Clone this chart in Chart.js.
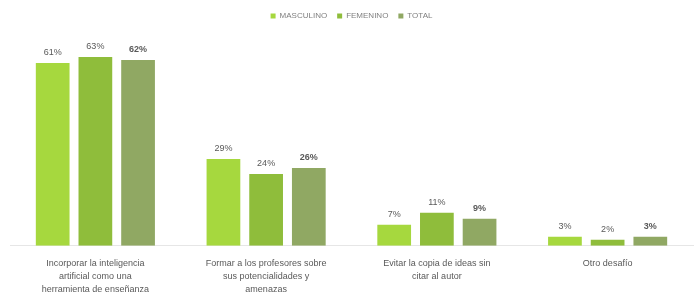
<!DOCTYPE html>
<html>
<head>
<meta charset="utf-8">
<script src="https://cdn.jsdelivr.net/npm/chart.js@4/dist/chart.umd.min.js"></script>
<style>
  html, body { margin: 0; padding: 0; background: #fff; }
  #wrap { width: 697px; height: 298px; }
</style>
</head>
<body>
<div id="wrap"><canvas id="chart" width="697" height="298"></canvas></div>
<script>
// Categories (challenges) and percentages per group
const categories = [
  ['Incorporar la inteligencia', 'artificial como una', 'herramienta de enseñanza'],
  ['Formar a los profesores sobre', 'sus potencialidades y', 'amenazas'],
  ['Evitar la copia de ideas sin', 'citar al autor'],
  ['Otro desafío']
];
const seriesNames = ['MASCULINO', 'FEMENINO', 'TOTAL'];
const masculino = [61, 29, 7, 3];
const femenino = [63, 24, 11, 2];
const total = [62, 26, 9, 3];
const colors = ['#a6d83e', '#8fbd3b', '#90a863'];

// Draw the percentage above each bar
const valueLabels = {
  id: 'valueLabels',
  afterDatasetsDraw(chart) {
    const ctx = chart.ctx;
    ctx.save();
    ctx.textAlign = 'center';
    ctx.textBaseline = 'bottom';
    chart.data.datasets.forEach((ds, i) => {
      const meta = chart.getDatasetMeta(i);
      ctx.fillStyle = '#595959';
      ctx.font = (i === 2 ? 'bold ' : '') + '9px "Liberation Sans", Arial, sans-serif';
      meta.data.forEach((bar, j) => {
        ctx.fillText(ds.data[j] + '%', bar.x, bar.y - 6);
      });
    });
    ctx.restore();
  }
};

new Chart(document.getElementById('chart'), {
  type: 'bar',
  data: {
    labels: categories,
    datasets: [
      { label: seriesNames[0], data: masculino, backgroundColor: colors[0] },
      { label: seriesNames[1], data: femenino, backgroundColor: colors[1] },
      { label: seriesNames[2], data: total, backgroundColor: colors[2] }
    ]
  },
  options: {
    responsive: false,
    animation: false,
    layout: { padding: { left: 10, right: 4, top: 2, bottom: -9 } },
    datasets: {
      bar: { categoryPercentage: 0.75, barPercentage: 0.79 }
    },
    plugins: {
      legend: {
        position: 'top',
        labels: {
          boxWidth: 5,
          boxHeight: 5,
          padding: 10,
          color: '#7f7f7f',
          font: { size: 8, family: '"Liberation Sans", Arial, sans-serif' }
        }
      },
      tooltip: { enabled: false }
    },
    scales: {
      x: {
        grid: { display: false, drawTicks: false },
        border: { display: true, color: '#e6e6e6' },
        ticks: {
          color: '#595959',
          padding: 11,
          maxRotation: 0,
          autoSkip: false,
          font: { size: 9, family: '"Liberation Sans", Arial, sans-serif', lineHeight: 1.45 }
        }
      },
      y: {
        display: false,
        min: 0,
        max: 72
      }
    }
  },
  plugins: [valueLabels]
});
</script>
</body>
</html>
